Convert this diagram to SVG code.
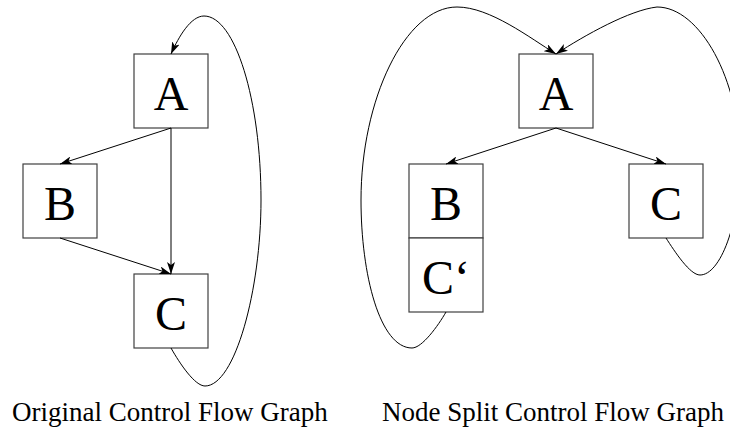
<svg xmlns="http://www.w3.org/2000/svg" width="730" height="430" viewBox="0 0 730 430">
  <style>
    .box { fill: #ffffff; stroke: #404040; stroke-width: 1.2; }
    .lbl { font-family: "Liberation Serif", "Times New Roman", serif; font-size: 48px; text-anchor: middle; fill: #000; }
    .cap { font-family: "Liberation Serif", "Times New Roman", serif; font-size: 27px; fill: #000; }
    .edge { fill: none; stroke: #000; stroke-width: 1; marker-end: url(#arrow); }
  </style>
  <defs>
    <marker id="arrow" viewBox="0 0 12 8" refX="12" refY="4" markerWidth="12" markerHeight="8" markerUnits="userSpaceOnUse" orient="auto">
      <path d="M0,0 L12,4 L0,8 L3,4 Z" fill="#000"/>
    </marker>
  </defs>

  <!-- original control flow graph -->
  <g id="orig-A"><rect class="box" x="134" y="54" width="74" height="74"/><text class="lbl" x="171" y="110">A</text></g>
  <g id="orig-B"><rect class="box" x="23" y="164" width="74" height="74"/><text class="lbl" x="60" y="220">B</text></g>
  <g id="orig-C"><rect class="box" x="134" y="274" width="74" height="74"/><text class="lbl" x="171" y="330">C</text></g>

  <!-- node split control flow graph -->
  <g id="split-A"><rect class="box" x="519" y="54" width="74" height="74"/><text class="lbl" x="556" y="110">A</text></g>
  <g id="split-B"><rect class="box" x="409" y="164" width="74" height="74"/><text class="lbl" x="446" y="220">B</text></g>
  <g id="split-Cp"><rect class="box" x="409" y="238" width="74" height="74"/><text class="lbl" x="446" y="294">C‘</text></g>
  <g id="split-C"><rect class="box" x="629" y="164" width="74" height="74"/><text class="lbl" x="666" y="220">C</text></g>

  <g id="connectors">
    <!-- left graph -->
    <path class="edge" d="M171,128 L60,164"/>
    <path class="edge" d="M171,128 L171,274"/>
    <path class="edge" d="M60,238 L171,274"/>
    <path class="edge" d="M171,348 C180,364 195,386 205,386 C235,386 261,290 261,200 C261,100 235,16 204,16 C191,16 179,36 171,54"/>
    <!-- right graph -->
    <path class="edge" d="M556,128 L446,164"/>
    <path class="edge" d="M556,128 L666,164"/>
    <path class="edge" d="M446,312 C438,326 422,348 412,348 C380,348 361,275 361,200 C361,100 405,7 457,7 C490,7 530,38 556,54"/>
    <path class="edge" d="M666,238 C675,252 690,275 700,275 C720,275 740,225 740,160 C740,80 700,7 657,7 C630,10 585,35 556,54"/>
  </g>

  <text class="cap" x="12" y="421">Original Control Flow Graph</text>
  <text class="cap" x="382" y="421">Node Split Control Flow Graph</text>
</svg>
